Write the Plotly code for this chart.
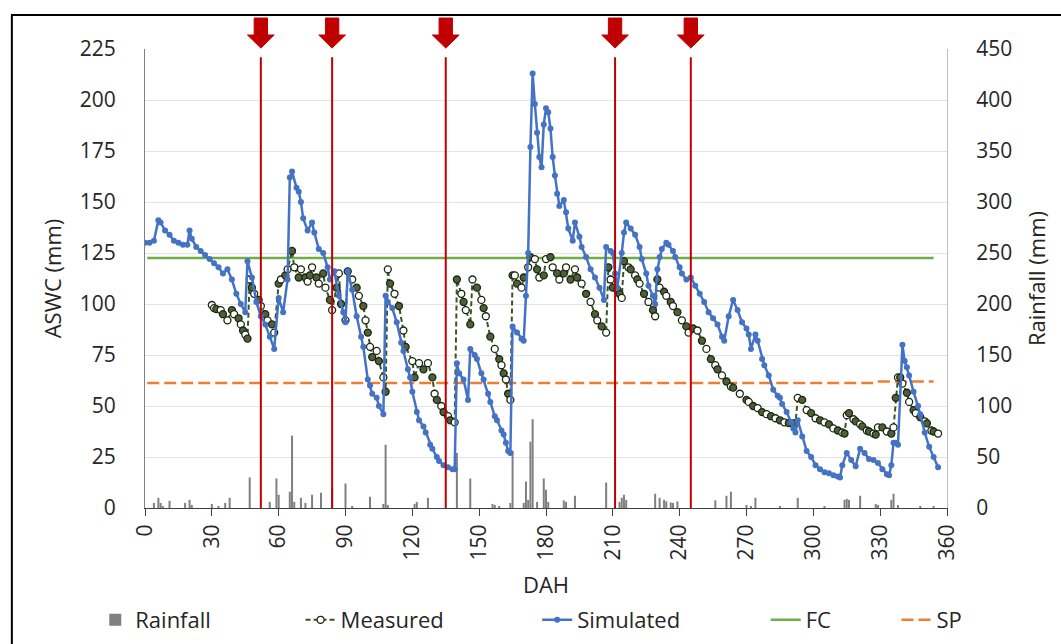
import plotly.graph_objects as go

# ---- soil water balance data (days after harvest) ----
sim_day = [0, 2, 4, 6, 7, 9, 11, 13, 15, 17, 19, 20, 21, 23, 25, 27, 29, 31, 33, 35,
           37, 39, 41, 43, 45, 46, 48, 50, 52, 54, 56, 58, 60, 62, 64, 65, 66, 68, 69, 70,
           71, 73, 75, 76, 78, 80, 82, 83, 85, 87, 89, 90, 91, 93, 95, 97, 98, 100, 101, 102,
           104, 105, 107, 108, 109, 111, 113, 115, 116, 118, 119, 120, 122, 123, 125, 126, 128, 129, 131, 132,
           134, 136, 138, 139, 140, 141, 143, 145, 146, 148, 149, 151, 152, 154, 155, 157, 158, 160, 161, 162,
           163, 164, 165, 167, 169, 170, 171, 172, 173, 174, 175, 176, 177, 178, 179, 180, 181, 182, 183, 184,
           185, 186, 188, 189, 190, 192, 193, 195, 196, 198, 200, 202, 204, 206, 207, 209, 210, 211, 212, 214,
           215, 216, 218, 220, 222, 223, 225, 226, 228, 229, 230, 231, 232, 234, 235, 237, 238, 240, 241, 243,
           245, 247, 249, 251, 253, 255, 257, 259, 260, 262, 264, 266, 268, 270, 271, 272, 274, 275, 277, 278,
           280, 282, 284, 285, 286, 288, 290, 291, 292, 293, 295, 297, 299, 301, 303, 305, 307, 309, 311, 312,
           313, 315, 317, 319, 321, 323, 325, 327, 329, 331, 333, 334, 335, 336, 337, 338, 340, 341, 342, 343,
           345, 347, 348, 350, 352, 354, 356]
sim_aswc = [130, 130, 131, 141, 140, 136, 134, 131, 130, 129, 129, 136, 132, 128, 126, 124, 122, 120, 118, 115,
            117, 112, 105, 100, 96, 121, 113, 101, 94, 90, 84, 78, 103, 96, 112, 162, 165, 157, 155, 150,
            142, 136, 140, 135, 127, 125, 118, 112, 116, 104, 96, 91, 116, 107, 94, 84, 79, 63, 60, 56,
            54, 50, 46, 104, 101, 98, 91, 81, 77, 68, 64, 57, 47, 43, 40, 37, 31, 29, 25, 23,
            21, 20, 19, 19, 71, 66, 63, 53, 78, 75, 73, 66, 63, 56, 52, 45, 43, 38, 36, 32,
            28, 27, 89, 86, 83, 82, 104, 125, 177, 213, 198, 184, 172, 167, 188, 196, 194, 186, 172, 163,
            154, 148, 151, 145, 137, 131, 140, 133, 128, 123, 117, 113, 108, 102, 128, 126, 125, 115, 108, 125,
            135, 140, 137, 134, 128, 122, 115, 109, 104, 100, 117, 123, 127, 130, 129, 126, 123, 118, 115, 112,
            113, 109, 105, 101, 96, 93, 90, 84, 82, 94, 102, 97, 91, 88, 85, 78, 85, 82, 73, 70,
            65, 58, 55, 54, 51, 47, 42, 39, 37, 43, 35, 28, 25, 21, 19, 17.5, 17, 16, 15.5, 15,
            21, 27, 23.5, 20.5, 29, 27, 24, 23.5, 22, 19, 16.5, 16, 21, 32, 32, 31, 80, 72, 69, 65,
            57, 50, 46, 37, 30, 25, 20]

meas_day = [30, 31, 32, 34, 35, 37, 39, 40, 42, 43, 44, 45, 46, 47, 48, 49, 51, 52, 54, 55,
            57, 58, 60, 61, 63, 64, 66, 67, 69, 70, 72, 73, 74, 75, 77, 78, 80, 81, 83, 84,
            86, 87, 88, 90, 91, 93, 95, 96, 98, 99, 100, 101, 102, 104, 105, 107, 108, 109, 110, 112,
            114, 116, 117, 120, 121, 123, 125, 127, 129, 130, 131, 133, 134, 136, 137, 139, 140, 142, 143, 144,
            146, 147, 149, 151, 152, 153, 155, 157, 159, 160, 161, 162, 163, 164, 165, 166, 167, 169, 170, 172,
            173, 175, 176, 177, 179, 180, 182, 183, 185, 186, 188, 189, 191, 193, 194, 196, 198, 200, 202, 203,
            205, 207, 208, 209, 210, 212, 213, 214, 215, 217, 218, 220, 221, 222, 224, 226, 228, 229, 230, 231,
            233, 234, 236, 237, 239, 241, 243, 244, 246, 248, 250, 252, 254, 256, 257, 259, 261, 263, 264, 267,
            270, 271, 273, 275, 277, 279, 281, 283, 285, 287, 289, 291, 292, 293, 295, 297, 299, 301, 303, 305,
            307, 309, 311, 313, 314, 315, 316, 318, 319, 321, 322, 324, 325, 327, 328, 329, 331, 333, 335, 336,
            337, 338, 339, 340, 342, 343, 345, 346, 348, 350, 351, 353, 354, 356]
meas_aswc = [99.5, 98, 97.5, 97, 95, 92, 97, 95, 93, 90, 87, 85, 83, 112, 108, 105, 102, 99, 95, 92,
             90, 86, 110, 112, 114, 117, 126, 118, 113, 117, 113, 111, 114, 118, 113, 110, 115, 108, 102, 97,
             108, 115, 100, 92, 116, 112, 108, 104, 99, 92, 86, 79, 74, 77, 72, 64, 57, 117, 110, 105,
             99, 87, 79, 72, 64, 71, 68, 71, 64, 56, 53, 50, 47, 45, 43, 42, 112, 105, 101, 97,
             90, 112, 108, 102, 98, 94, 84, 78, 73, 70, 66, 63, 56, 53, 114, 114, 110, 108, 113, 118,
             123, 122, 117, 113, 114, 122, 123, 118, 115, 112, 115, 118, 112, 117, 113, 110, 105, 101, 95, 92,
             89, 86, 118, 112, 108, 107, 105, 103, 121, 118, 117, 114, 112, 110, 105, 101, 97, 94, 112, 108,
             106, 104, 101, 99, 96, 92, 89, 86, 88, 87, 82, 78, 73, 70, 68, 65, 62, 59.5, 59, 56,
             53, 52, 50, 49, 47, 46, 45, 44, 43, 42, 41.6, 41.5, 41.5, 54, 53, 48, 46.5, 44, 43, 42,
             41, 39, 38, 37, 36.5, 45.5, 46.5, 43.5, 42.5, 41, 40, 38, 37.5, 36.5, 36, 39.5, 39.5, 37.5, 36.5, 39.5,
             54, 64, 64, 61, 56.5, 52, 48, 46.5, 44.5, 42.5, 41.5, 38, 37.5, 36.5]

rain_day = [4, 6, 7, 8, 11, 18, 20, 21, 30, 33, 36, 38, 47, 56, 59, 60, 65, 66, 67, 70,
            72, 75, 79, 84, 90, 93, 101, 107, 108, 109, 121, 122, 127, 140, 146, 156, 157, 159, 164, 165,
            170, 171, 172, 173, 174, 176, 179, 180, 181, 188, 189, 193, 207, 213, 214, 215, 216, 229, 231, 233,
            234, 236, 237, 239, 256, 261, 263, 270, 272, 274, 285, 293, 305, 314, 315, 316, 321, 328, 329, 335,
            336, 338, 348, 354]
rain_mm = [5, 10, 5, 2, 7, 5, 8, 3, 4, 2, 5, 10, 30, 6, 29, 13, 16, 71, 6, 10,
           5, 13, 15, 20, 24, 2, 11, 4, 62, 3, 4, 6, 10, 54, 29, 4, 3, 1.5, 5, 56,
           5, 26, 8, 65, 87, 6, 29, 18, 6, 7.5, 6, 12, 25, 6, 10, 13, 8, 14, 10, 8,
           6.5, 5.5, 5, 6.5, 7.5, 12, 16, 3, 2, 10, 1.5, 10, 1.5, 8, 9, 8, 12, 4, 3, 8,
           14, 3, 1, 1.5]

fc_day = [1, 354]
fc_aswc = [122.5, 122.5]
sp_day = [1, 327, 328, 354]
sp_aswc = [61.3, 61.3, 62.0, 62.0]

irrigation_day = [52, 84, 135, 211, 245]
dah_ticks = [0, 30, 60, 90, 120, 150, 180, 210, 240, 270, 300, 330, 360]

FONT = "Open Sans, Lato, sans-serif"
TXT = "#262626"

# measured circles: alternating filled / hollow
meas_fill = ["#4F5F3A" if i % 2 == 0 else "white" for i in range(len(meas_day))]
meas_fill[0] = "white"

fig = go.Figure()

fig.add_trace(go.Bar(x=rain_day, y=rain_mm, name="Rainfall", yaxis="y", showlegend=True,
                     marker=dict(color="#808080", line=dict(width=0)), width=0.9,
                     legend="legend"))
fig.add_trace(go.Scatter(x=fc_day, y=fc_aswc, name="FC", yaxis="y2", mode="lines",
                         line=dict(color="#70AD47", width=2.5), legend="legend4"))
fig.add_trace(go.Scatter(x=sp_day, y=sp_aswc, name="SP", yaxis="y2", mode="lines",
                         line=dict(color="#ED7D31", width=2.5, dash="12px,5px"),
                         legend="legend5"))
fig.add_trace(go.Scatter(x=meas_day, y=meas_aswc, name="Measured", yaxis="y2",
                         mode="lines+markers",
                         line=dict(color="#375623", width=2, dash="5px,3px"),
                         marker=dict(symbol="circle", size=7, color=meas_fill,
                                     line=dict(color="#1A2610", width=1.3)),
                         legend="legend2"))
fig.add_trace(go.Scatter(x=sim_day, y=sim_aswc, name="Simulated", yaxis="y2",
                         mode="lines+markers",
                         line=dict(color="#4472C4", width=2.5),
                         marker=dict(symbol="circle", size=6, color="#4472C4"),
                         legend="legend3"))

shapes = []
# irrigation events: vertical red lines with block arrows above the plot
for d in irrigation_day:
    shapes.append(dict(type="line", xref="x", yref="y2", x0=d, x1=d, y0=0, y1=221,
                       line=dict(color="#C00000", width=2), layer="above"))
    sw, hw = 3.0, 6.0
    path = (f"M {d - sw},1.0675 L {d + sw},1.0675 L {d + sw},1.0305 L {d + hw},1.0305 "
            f"L {d},1.002 L {d - hw},1.0305 L {d - sw},1.0305 Z")
    shapes.append(dict(type="path", xref="x", yref="paper", path=path,
                       fillcolor="#C00000", line=dict(color="#C00000", width=1)))
# outer frame
shapes.append(dict(type="rect", xref="paper", yref="paper", x0=-0.166, x1=1.3,
                   y0=-0.5, y1=1.074, line=dict(color="black", width=2), layer="below"))

legend_common = dict(orientation="h", yref="container", yanchor="middle", y=0.0373,
                     xanchor="left", bgcolor="rgba(0,0,0,0)",
                     font=dict(family=FONT, size=22, color=TXT), visible=True)

fig.update_layout(
    width=1061, height=644,
    margin=dict(l=145, r=114, t=49, b=136),
    paper_bgcolor="white", plot_bgcolor="white",
    font=dict(family=FONT, size=21, color=TXT),
    barmode="overlay",
    showlegend=True,
    shapes=shapes,
    legend=dict(legend_common, x=-0.062),
    legend2=dict(legend_common, x=0.194),
    legend3=dict(legend_common, x=0.489),
    legend4=dict(legend_common, x=0.774),
    legend5=dict(legend_common, x=0.937),
    xaxis=dict(range=[0, 360], tickvals=dah_ticks, ticktext=[str(t) for t in dah_ticks],
               tickangle=-90, ticks="outside", ticklen=7, tickcolor="#404040",
               showline=True, linecolor="#404040", linewidth=1, showgrid=False,
               zeroline=False, automargin=False,
               tickfont=dict(size=21, color=TXT),
               title=dict(text="DAH", standoff=24, font=dict(size=22, color=TXT))),
    yaxis=dict(side="right", range=[0, 450], dtick=50, showgrid=False, zeroline=False,
               showline=True, linecolor="#BFBFBF", linewidth=1, automargin=False,
               ticklabelstandoff=24, tickfont=dict(size=21, color=TXT),
               title=dict(text="Rainfall (mm)", standoff=18, font=dict(size=22, color=TXT))),
    yaxis2=dict(overlaying="y", side="left", range=[0, 225], dtick=25,
                showgrid=True, gridcolor="#E3E3E3", gridwidth=1, zeroline=False,
                showline=True, linecolor="#808080", linewidth=1, automargin=False,
                ticklabelstandoff=24, tickfont=dict(size=21, color=TXT),
                title=dict(text="ASWC (mm)", standoff=12, font=dict(size=22, color=TXT))),
)

fig.write_html("out.html")
